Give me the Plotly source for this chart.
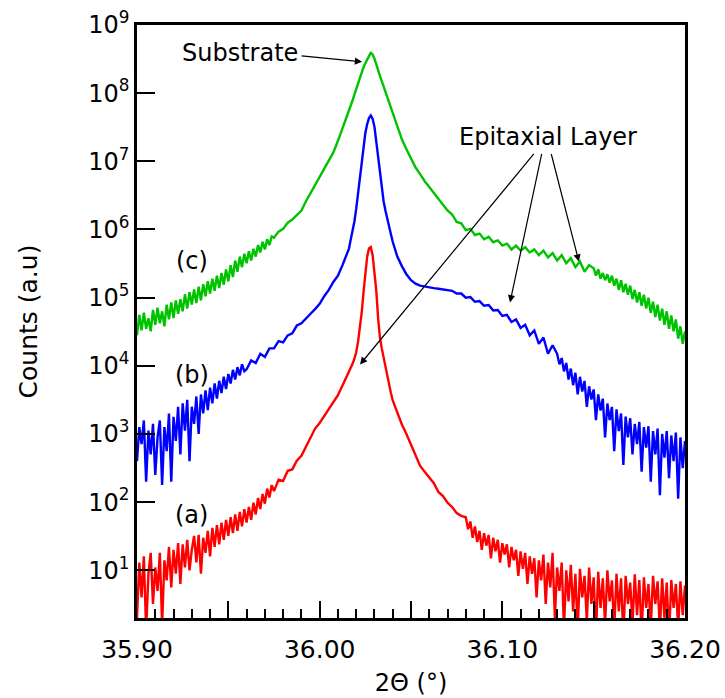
import plotly.graph_objects as go

# ---- 2-theta positions (degrees) ----
theta_left_fine = [
    35.90000, 35.90125, 35.90250, 35.90375, 35.90500, 35.90625, 35.90750, 35.90875, 35.91000, 35.91125,
    35.91250, 35.91375, 35.91500, 35.91625, 35.91750, 35.91875, 35.92000, 35.92125, 35.92250, 35.92375,
    35.92500, 35.92625, 35.92750, 35.92875, 35.93000, 35.93125, 35.93250, 35.93375, 35.93500, 35.93625,
    35.93750, 35.93875, 35.94000, 35.94125, 35.94250, 35.94375, 35.94500, 35.94625, 35.94750, 35.94875,
    35.95000, 35.95125, 35.95250, 35.95375, 35.95500, 35.95625, 35.95750, 35.95875, 35.96000, 35.96125,
    35.96250, 35.96375, 35.96500, 35.96625, 35.96750, 35.96875, 35.97000, 35.97125, 35.97250, 35.97375,
]
theta_left_coarse = [
    35.9000, 35.9025, 35.9050, 35.9075, 35.9100, 35.9125, 35.9150, 35.9175, 35.9200, 35.9225,
    35.9250, 35.9275, 35.9300, 35.9325, 35.9350, 35.9375, 35.9400, 35.9425, 35.9450, 35.9475,
    35.9500, 35.9525, 35.9550, 35.9575, 35.9600, 35.9625, 35.9650, 35.9675, 35.9700, 35.9725,
    35.9750, 35.9775, 35.9800, 35.9825, 35.9850, 35.9875, 35.9900, 35.9925, 35.9950, 35.9975,
    36.0000, 36.0025, 36.0050, 36.0075, 36.0100, 36.0125, 36.0150,
]
theta_peak = [
    36.016, 36.017, 36.018, 36.019, 36.020, 36.021, 36.022, 36.023, 36.024, 36.025,
    36.026, 36.027, 36.028, 36.029, 36.030, 36.031, 36.032, 36.033, 36.034, 36.035,
    36.036, 36.037, 36.038, 36.039, 36.040,
]
theta_right_coarse = [
    36.0425, 36.0450, 36.0475, 36.0500, 36.0525, 36.0550, 36.0575, 36.0600, 36.0625, 36.0650,
    36.0675, 36.0700, 36.0725, 36.0750, 36.0775, 36.0800, 36.0825, 36.0850, 36.0875, 36.0900,
    36.0925, 36.0950, 36.0975, 36.1000, 36.1025, 36.1050, 36.1075, 36.1100, 36.1125, 36.1150,
    36.1175, 36.1200, 36.1225, 36.1250, 36.1275, 36.1300, 36.1325, 36.1350, 36.1375, 36.1400,
    36.1425, 36.1450, 36.1475,
]
theta_right_fine = [
    36.08000, 36.08125, 36.08250, 36.08375, 36.08500, 36.08625, 36.08750, 36.08875, 36.09000, 36.09125,
    36.09250, 36.09375, 36.09500, 36.09625, 36.09750, 36.09875, 36.10000, 36.10125, 36.10250, 36.10375,
    36.10500, 36.10625, 36.10750, 36.10875, 36.11000, 36.11125, 36.11250, 36.11375, 36.11500, 36.11625,
    36.11750, 36.11875, 36.12000, 36.12125, 36.12250, 36.12375, 36.12500, 36.12625, 36.12750, 36.12875,
    36.13000, 36.13125, 36.13250, 36.13375, 36.13500, 36.13625, 36.13750, 36.13875, 36.14000, 36.14125,
    36.14250, 36.14375, 36.14500, 36.14625, 36.14750, 36.14875, 36.15000, 36.15125, 36.15250, 36.15375,
    36.15500, 36.15625, 36.15750, 36.15875, 36.16000, 36.16125, 36.16250, 36.16375, 36.16500, 36.16625,
    36.16750, 36.16875, 36.17000, 36.17125, 36.17250, 36.17375, 36.17500, 36.17625, 36.17750, 36.17875,
    36.18000, 36.18125, 36.18250, 36.18375, 36.18500, 36.18625, 36.18750, 36.18875, 36.19000, 36.19125,
    36.19250, 36.19375, 36.19500, 36.19625, 36.19750, 36.19875, 36.20000,
]

theta_a = theta_left_fine + theta_left_coarse[30:] + theta_peak + theta_right_coarse[:15] + theta_right_fine
theta_b = theta_left_fine[:48] + theta_left_coarse[24:] + theta_peak + theta_right_coarse[:35] + theta_right_fine[40:]
theta_c = theta_left_fine + theta_left_coarse[30:] + theta_peak + theta_right_coarse[:43] + theta_right_fine[56:]

# ---- (a) red sample, counts ----
counts_a = [
    2.0, 13, 4.0, 16, 1.3, 8.9, 18, 3.2, 11, 5.0,
    18, 1.6, 14, 7.1, 22, 5.6, 20, 8.9, 25, 6.3,
    24, 11, 28, 10, 20, 32, 13, 33, 8.9, 30,
    18, 38, 16, 42, 22, 46, 24, 50, 28, 55,
    32, 60, 35, 66, 38, 72, 44, 79, 50, 85,
    55, 98, 66, 115, 79, 132, 95, 158, 117, 178,
    145, 214, 204, 288, 302, 407, 479, 646, 891, 1200,
    1450, 1820, 2290, 2950, 3720, 5130, 7080,
    8130, 9330, 1.07e4, 1.26e4, 1.58e4, 2.24e4, 3.55e4, 6.0e4, 1.2e5, 2.4e5,
    4.0e5, 5.25e5, 5.5e5, 4.2e5, 2.5e5, 1.26e5, 5.0e4, 2.6e4, 1.8e4, 1.3e4,
    9500, 6900, 5200, 4000, 3100,
    2000, 1380, 1000, 710, 480, 340, 280, 234, 190, 141,
    123, 98, 85, 69, 63,
    60, 40, 52, 30, 44, 26, 38, 20, 35, 23,
    33, 15, 30, 19, 28, 13, 25, 17, 24, 11,
    22, 14, 20, 8.3, 19, 10.5, 18, 6.3, 16, 8.9,
    15, 4.0, 14, 7.1, 17, 3.2, 13, 5.6, 18, 2.0,
    11, 5.0, 13, 1.4, 10, 3.5, 12, 2.5, 8.9, 1.3,
    10.5, 4.0, 8.3, 1.8, 11, 3.2, 7.9, 1.1, 9.5, 2.8,
    7.6, 1.6, 10, 3.5, 7.1, 1.3, 8.9, 2.5, 7.6, 1.0,
    8.3, 3.2, 6.6, 1.6, 8.7, 2.2, 7.2, 1.1, 7.9, 2.8,
    6.3, 1.4, 8.3, 3.2, 6.9, 1.3, 7.6, 2.0, 6.6, 1.0,
    7.2, 2.8, 6.3, 1.4, 6.9, 2.2, 6.0,
]

# ---- (b) blue sample, counts ----
counts_b = [
    400, 1260, 710, 1580, 200, 1120, 500, 1410, 250, 890,
    1580, 178, 1260, 560, 2000, 200, 1780, 790, 2510, 500,
    2820, 1120, 3160, 400, 2510, 1410, 3550, 1000, 3800, 2000,
    4370, 2240, 4790, 2820, 5500, 3310, 6030, 3980, 6920, 4570,
    7590, 5500, 8710, 6310, 9550, 7240, 1.05e4, 8320,
    8900, 1.2e4, 1.1e4, 1.5e4, 1.35e4, 1.8e4, 1.8e4, 2.3e4, 2.2e4, 2.8e4,
    3.0e4, 3.9e4, 4.2e4, 5.0e4, 5.8e4, 6.8e4, 8.1e4, 1.05e5, 1.3e5, 1.7e5,
    2.1e5, 3.0e5, 4.4e5,
    5.2e5, 7.1e5, 9.3e5, 1.3e6, 2.0e6, 3.3e6, 5.6e6, 1.05e7, 1.7e7, 2.6e7,
    3.5e7, 4.3e7, 4.7e7, 4.2e7, 3.2e7, 2.0e7, 1.2e7, 6.5e6, 4.0e6, 2.6e6,
    1.9e6, 1.5e6, 1.1e6, 8.5e5, 6.6e5,
    4.0e5, 2.9e5, 2.2e5, 1.8e5, 1.6e5, 1.5e5, 1.45e5, 1.4e5, 1.38e5, 1.35e5,
    1.32e5, 1.26e5, 1.26e5, 1.15e5, 1.15e5, 1.0e5, 1.02e5, 8.7e4, 8.9e4, 7.6e4,
    7.8e4, 6.5e4, 6.6e4, 5.4e4, 5.6e4, 4.4e4, 4.8e4, 3.6e4, 4.0e4, 2.8e4,
    3.3e4, 2.1e4, 2.6e4, 1.5e4, 2.0e4,
    1.5e4, 1.05e4, 1.3e4, 8300, 1.1e4, 6300, 9100, 5200, 7900, 3800,
    6900, 4200, 6000, 2500, 5000, 3200, 4500, 1600, 3800, 2200,
    3300, 890, 2800, 1600, 2500, 560, 2300, 1100, 2000, 350,
    1800, 890, 1700, 500, 1400, 710, 1500, 280, 1260, 630,
    1300, 200, 1100, 500, 1200, 126, 1000, 450, 1100, 224,
    950, 400, 1050, 112, 890, 316, 790,
]

# ---- (c) green sample, counts ----
counts_c = [
    2.8e4, 5.6e4, 3.3e4, 6.0e4, 3.5e4, 5.0e4, 3.2e4, 6.6e4, 4.0e4, 7.1e4,
    4.2e4, 6.3e4, 3.8e4, 7.9e4, 4.8e4, 8.5e4, 5.0e4, 9.1e4, 5.8e4, 9.5e4,
    6.3e4, 1.12e5, 6.9e4, 1.2e5, 7.9e4, 1.32e5, 8.3e4, 1.45e5, 9.1e4, 1.58e5,
    1.05e5, 1.74e5, 1.15e5, 1.9e5, 1.26e5, 2.1e5, 1.38e5, 2.3e5, 1.55e5, 2.6e5,
    1.74e5, 3.0e5, 2.0e5, 3.5e5, 2.4e5, 4.0e5, 2.8e5, 4.4e5, 3.2e5, 4.8e5,
    3.5e5, 5.2e5, 4.0e5, 5.9e5, 4.6e5, 6.6e5, 5.1e5, 7.2e5, 5.9e5, 7.9e5,
    7.6e5, 9.3e5, 1.02e6, 1.26e6, 1.4e6, 1.66e6, 1.9e6, 2.6e6, 3.4e6, 4.4e6,
    5.8e6, 7.6e6, 1.0e7, 1.35e7, 2.0e7, 3.0e7, 4.6e7,
    5.4e7, 6.3e7, 7.8e7, 9.5e7, 1.15e8, 1.4e8, 1.7e8, 2.0e8, 2.4e8, 2.75e8,
    3.2e8, 3.5e8, 3.9e8, 3.7e8, 3.2e8, 2.7e8, 2.3e8, 1.8e8, 1.5e8, 1.26e8,
    1.07e8, 8.9e7, 7.4e7, 6.0e7, 5.0e7,
    3.3e7, 2.1e7, 1.5e7, 1.1e7, 8.1e6, 6.5e6, 5.1e6, 4.2e6, 3.4e6, 2.75e6,
    2.3e6, 1.9e6, 1.66e6, 1.29e6, 1.23e6, 9.8e5, 1.02e6, 8.3e5, 8.7e5, 7.2e5,
    7.8e5, 6.5e5, 6.9e5, 5.8e5, 6.2e5, 5.1e5, 5.8e5, 4.9e5, 5.5e5, 4.6e5,
    5.1e5, 4.2e5, 4.9e5, 3.9e5, 4.5e5, 3.5e5, 4.2e5, 3.2e5, 3.8e5, 2.8e5,
    3.4e5, 2.4e5, 3.0e5,
    2.7e5, 2.1e5, 2.6e5, 1.9e5, 2.3e5, 1.8e5, 2.2e5, 1.66e5, 2.1e5, 1.5e5,
    1.9e5, 1.3e5, 1.8e5, 1.2e5, 1.6e5, 1.1e5, 1.5e5, 9.5e4, 1.3e5, 8.5e4,
    1.2e5, 7.6e4, 1.1e5, 6.9e4, 1.0e5, 6.0e4, 8.7e4, 5.2e4, 7.9e4, 4.6e4,
    6.9e4, 4.0e4, 6.3e4, 3.5e4, 5.5e4, 3.2e4, 4.8e4, 2.5e4, 3.8e4, 2.1e4,
    3.2e4,
]

assert len(theta_a) == len(counts_a), (len(theta_a), len(counts_a))
assert len(theta_b) == len(counts_b), (len(theta_b), len(counts_b))
assert len(theta_c) == len(counts_c), (len(theta_c), len(counts_c))

x_tickvals = [35.90, 35.95, 36.00, 36.05, 36.10, 36.15, 36.20]
x_ticktext = ["35.90", "", "36.00", "", "36.10", "", "36.20"]
y_tickvals = [1e1, 1e2, 1e3, 1e4, 1e5, 1e6, 1e7, 1e8, 1e9]
y_ticktext = ["10<sup>1</sup>", "10<sup>2</sup>", "10<sup>3</sup>", "10<sup>4</sup>",
              "10<sup>5</sup>", "10<sup>6</sup>", "10<sup>7</sup>", "10<sup>8</sup>",
              "10<sup>9</sup>"]

FONT = "DejaVu Sans"
RED, BLUE, GREEN = "#ff0000", "#0000ff", "#00c300"

fig = go.Figure()
for xv, yv, col in [(theta_a, counts_a, RED), (theta_b, counts_b, BLUE), (theta_c, counts_c, GREEN)]:
    fig.add_trace(go.Scatter(x=xv, y=yv, mode="lines",
                             line=dict(color=col, width=2.4), showlegend=False,
                             hoverinfo="skip"))

fig.update_layout(
    width=725, height=698,
    margin=dict(l=137, r=40, t=25, b=80),
    paper_bgcolor="white", plot_bgcolor="white",
    font=dict(family=FONT, color="black"),
    xaxis=dict(
        range=[35.90, 36.20], tickvals=x_tickvals, ticktext=x_ticktext,
        ticks="inside", ticklen=17, tickwidth=2, tickcolor="black",
        minor=dict(dtick=0.01, tick0=35.90, ticks="inside", ticklen=9,
                   tickwidth=1.6, tickcolor="black", showgrid=False),
        showline=True, linecolor="black", linewidth=2.5, mirror=True,
        showgrid=False, zeroline=False, automargin=False,
        tickfont=dict(size=25, family=FONT), ticklabelstandoff=7,
        title=dict(text="2\u0398 (\u00b0)", font=dict(size=24, family=FONT), standoff=12),
    ),
    yaxis=dict(
        type="log", range=[0.3, 9], tickvals=y_tickvals, ticktext=y_ticktext,
        ticks="inside", ticklen=18, tickwidth=2, tickcolor="black",
        showline=True, linecolor="black", linewidth=2.5, mirror=True,
        showgrid=False, zeroline=False, automargin=False,
        tickfont=dict(size=24, family=FONT),
        title=dict(text="Counts (a.u)", font=dict(size=25, family=FONT), standoff=44),
    ),
)

# Series labels
for txt, xx, yy in [("(c)", 35.9301, 5.54), ("(b)", 35.9301, 3.86), ("(a)", 35.9301, 1.81)]:
    fig.add_annotation(x=xx, y=yy, text=txt, showarrow=False,
                       font=dict(size=24, family=FONT))

# Substrate label and arrow
fig.add_annotation(x=35.9564, y=8.59, text="Substrate", showarrow=False,
                   font=dict(size=24, family=FONT))
fig.add_annotation(x=36.0232, y=8.46, text="", showarrow=True, ax=-62, ay=-6,
                   arrowhead=2, arrowsize=1.2, arrowwidth=1.2, arrowcolor="black")

# Epitaxial layer label and arrows
fig.add_annotation(x=36.125, y=7.36, text="Epitaxial Layer", showarrow=False,
                   font=dict(size=24, family=FONT))
for hx, hy, ax, ay in [(36.0221, 4.02, 175, -212), (36.1042, 4.93, 32, -150),
                       (36.1419, 5.53, -28, -109)]:
    fig.add_annotation(x=hx, y=hy, text="", showarrow=True, ax=ax, ay=ay,
                       arrowhead=2, arrowsize=1.2, arrowwidth=1.2, arrowcolor="black")

fig.write_html("out.html")
